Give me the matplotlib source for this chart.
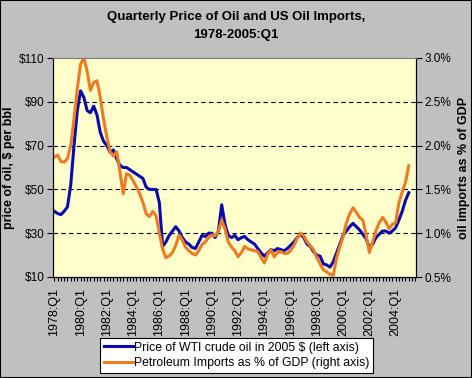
import matplotlib
matplotlib.use('Agg')
import matplotlib.pyplot as plt
from matplotlib.ticker import FuncFormatter, MultipleLocator

plt.rcParams['font.family'] = ['Liberation Sans', 'DejaVu Sans']

# quarters 1978:Q1 .. 2005:Q1
years = list(range(1978, 2006))
quarters = [f"{y}:Q{q}" for y in years for q in range(1, 5)][:109]

# price of WTI crude in 2005 $ (left axis)
price = [40, 39, 38.5, 40, 42, 52, 70, 86, 95, 92, 86, 85,
         88, 84, 76, 72, 70, 67, 68, 64, 61, 60, 60, 59,
         58, 57, 56, 55, 51, 50, 50, 50, 44, 24, 26, 29,
         31, 33, 31, 28, 26, 25, 23.5, 23, 26, 29, 28.5, 30,
         30, 28, 31, 43, 34, 29, 28, 29, 27, 28, 28.5, 27,
         26, 25, 23, 21, 19.5, 21, 22.5, 22, 23, 22.5, 22, 23,
         24.5, 26, 28, 29.5, 28, 25, 24, 21.5, 20, 19.5, 16, 15.5,
         14.5, 17, 21, 25, 29, 31, 33, 34.5, 33, 31.5, 29.5, 27.5,
         23.5, 25, 28, 29.5, 31, 31, 30, 31, 32.5, 36, 40, 45, 48.5]

# petroleum imports as % of GDP (right axis)
imports = [1.87, 1.89, 1.82, 1.81, 1.85, 2.0, 2.3, 2.65, 2.93, 3.0, 2.85, 2.63,
           2.72, 2.74, 2.55, 2.3, 2.1, 1.93, 1.88, 1.93, 1.7, 1.45, 1.68, 1.66,
           1.6, 1.53, 1.45, 1.35, 1.22, 1.19, 1.25, 1.2, 1.0, 0.82, 0.72, 0.74,
           0.78, 0.86, 0.98, 0.92, 0.84, 0.8, 0.77, 0.75, 0.8, 0.87, 0.9, 0.95,
           0.98, 0.97, 1.02, 1.15, 1.05, 0.9, 0.84, 0.8, 0.73, 0.78, 0.85, 0.82,
           0.81, 0.8, 0.79, 0.72, 0.66, 0.76, 0.81, 0.73, 0.78, 0.79, 0.77, 0.77,
           0.8, 0.86, 0.94, 1.0, 0.97, 0.9, 0.86, 0.81, 0.72, 0.65, 0.58, 0.56,
           0.53, 0.52, 0.72, 0.85, 0.96, 1.12, 1.22, 1.29, 1.24, 1.18, 1.15, 0.98,
           0.78, 0.9, 1.03, 1.12, 1.18, 1.13, 1.05, 1.1, 1.12, 1.35, 1.47, 1.58, 1.77]

blue = '#0A0AB0'
orange = '#F07A22'

fig = plt.figure(figsize=(4.72, 3.78), dpi=100, facecolor='#C0C0C0')
fig.patches.append(plt.Rectangle((0, 0), 1, 1, transform=fig.transFigure,
                                 fill=False, edgecolor='black', linewidth=1.5))
ax = fig.add_axes([53 / 472, 101 / 378, 363 / 472, 219 / 378])
ax.set_facecolor('#FFFFCC')
ax2 = ax.twinx()

x = list(range(len(quarters)))
l1, = ax.plot(x, price, color=blue, linewidth=2.2)
l2, = ax2.plot(x, imports, color=orange, linewidth=2.2)

ax.set_ylim(10, 110)
ax.set_yticks([10, 30, 50, 70, 90, 110])
ax.yaxis.set_major_formatter(FuncFormatter(lambda v, p: f"${v:.0f}"))
ax2.set_ylim(0.5, 3.0)
ax2.set_yticks([0.5, 1.0, 1.5, 2.0, 2.5, 3.0])
ax2.yaxis.set_major_formatter(FuncFormatter(lambda v, p: f"{v:.1f}%"))

for v in [30, 50, 70, 90]:
    ax.axhline(v, color='black', linewidth=0.8, linestyle=(0, (4, 3)), zorder=0.5)

ax.set_xlim(-0.4, 110.2)
ax.set_xticks(x[::8])
ax.set_xticklabels(quarters[::8], rotation=90, fontsize=9)
ax.xaxis.set_minor_locator(MultipleLocator(1))
ax.tick_params(axis='x', which='both', direction='out', length=3, width=0.8, pad=5)
ax.tick_params(axis='y', direction='out', length=4, labelsize=8.5, pad=2)
ax2.tick_params(axis='y', direction='out', length=4, labelsize=8.5, pad=2)

for a in (ax, ax2):
    for s in a.spines.values():
        s.set_linewidth(0.8)
    a.spines['top'].set_color('#808080')

ax.set_ylabel('price of oil, $ per bbl', fontsize=9, fontweight='bold', labelpad=3)
ax2.set_ylabel('oil imports as % of GDP', fontsize=9, fontweight='bold',
               rotation=90, labelpad=5)

fig.text(0.5, 1 - 17 / 378, 'Quarterly Price of Oil and US Oil Imports,',
         ha='center', va='center', fontsize=9.5, fontweight='bold')
fig.text(0.5, 1 - 35 / 378, '1978-2005:Q1',
         ha='center', va='center', fontsize=9.5, fontweight='bold')

leg = fig.legend([l1, l2],
                 ['Price of WTI crude oil in 2005 $ (left axis)',
                  'Petroleum Imports as % of GDP (right axis)'],
                 loc='lower left', bbox_to_anchor=(100 / 472, 5 / 378),
                 fontsize=8.8, frameon=True, fancybox=False, edgecolor='black',
                 framealpha=1, borderpad=0.3, handlelength=2.4, handletextpad=0.1,
                 labelspacing=0.3, borderaxespad=0)
leg.get_frame().set_linewidth(0.8)

fig.savefig('out.png', dpi=100, facecolor=fig.get_facecolor())
